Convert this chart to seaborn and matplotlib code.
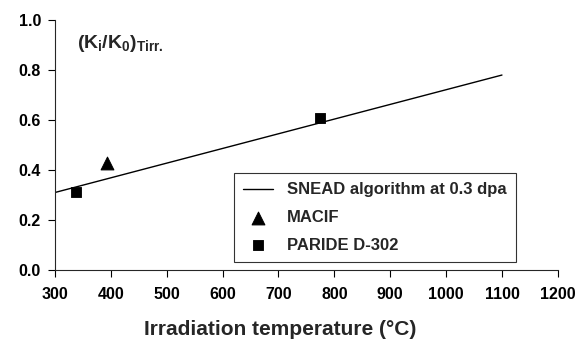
import pandas as pd
import matplotlib.pyplot as plt
import seaborn as sns

# === data ===
snead_temp = [300, 1100]
snead_k = [0.31, 0.78]

macif_temp = [393]
macif_k = [0.43]

paride_temp = [338, 775]
paride_k = [0.31, 0.61]

sns.set_theme(style="ticks")
plt.rcParams["font.family"] = ["Liberation Sans", "DejaVu Sans"]
plt.rcParams["font.weight"] = "bold"
plt.rcParams["mathtext.fontset"] = "custom"
plt.rcParams["mathtext.rm"] = "Liberation Sans:bold"
plt.rcParams["mathtext.bf"] = "Liberation Sans:bold"
plt.rcParams["mathtext.it"] = "Liberation Sans:bold"

snead = pd.DataFrame({"temp": snead_temp, "k": snead_k})
macif = pd.DataFrame({"temp": macif_temp, "k": macif_k})
paride = pd.DataFrame({"temp": paride_temp, "k": paride_k})

fig = plt.figure(figsize=(5.8, 3.4), dpi=100)
ax = fig.add_axes([0.0948, 0.206, 0.867, 0.735])

sns.lineplot(data=snead, x="temp", y="k", ax=ax, color="black", lw=1.0,
             label="SNEAD algorithm at 0.3 dpa")
sns.scatterplot(data=macif, x="temp", y="k", ax=ax, marker="^", s=85,
                color="black", edgecolor="black", label="MACIF")
sns.scatterplot(data=paride, x="temp", y="k", ax=ax, marker="s", s=60,
                color="black", edgecolor="black", label="PARIDE D-302")

ax.set_xlim(300, 1200)
ax.set_ylim(0.0, 1.0)
ax.set_xticks(range(300, 1201, 100))
ax.set_yticks([0.0, 0.2, 0.4, 0.6, 0.8, 1.0])
ax.set_yticklabels([f"{v:.1f}" for v in ax.get_yticks()])
ax.tick_params(labelsize=11.5, length=5, width=0.8, colors="black")
ax.tick_params(axis="x", pad=7)
ax.tick_params(axis="y", pad=5)
for lbl in ax.get_xticklabels() + ax.get_yticklabels():
    lbl.set_fontweight("bold")
sns.despine(ax=ax)
ax.spines["left"].set_linewidth(0.8)
ax.spines["bottom"].set_linewidth(0.8)

ax.set_xlabel("Irradiation temperature (°C)", fontsize=15, fontweight="bold")
ax.xaxis.label.set_va("center")
ax.xaxis.set_label_coords(0.447, -0.24)
ax.set_ylabel("")
ax.text(0.044, 0.905, r"$(K_i/K_0)_{Tirr.}$", transform=ax.transAxes,
        fontsize=14, fontweight="bold", va="center")

leg = ax.legend(loc="lower right", bbox_to_anchor=(0.916, 0.032), frameon=True,
                fancybox=False, edgecolor="black", fontsize=12,
                handlelength=1.8, borderpad=0.55, labelspacing=0.76,
                borderaxespad=0)
leg.get_frame().set_linewidth(0.8)
for t in leg.get_texts():
    t.set_fontweight("bold")

fig.savefig("out.png", dpi=100)
